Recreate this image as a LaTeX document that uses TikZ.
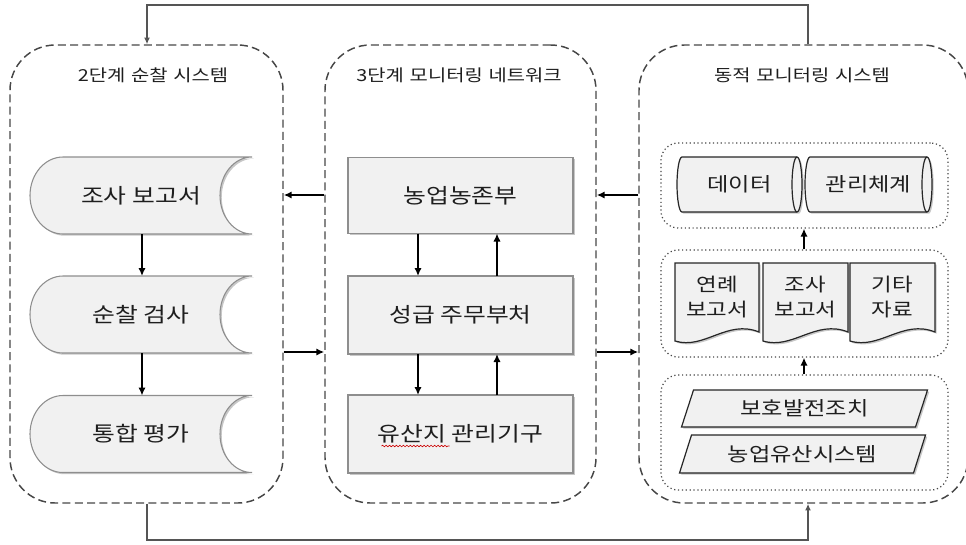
\documentclass[tikz,border=0pt]{standalone}
\usepackage{fontspec}
\setmainfont{Noto Sans CJK KR}[FakeStretch=1.2]
\newfontfamily\titlefont{Noto Sans CJK KR}[FakeStretch=1.2, WordSpace=1.3]
\usetikzlibrary{arrows.meta,calc,shadows,decorations.pathmorphing}
\definecolor{dashc}{HTML}{474747}
\definecolor{txtc}{HTML}{1E1E1E}
\definecolor{fillc}{HTML}{F1F1F1}
\definecolor{edgegray}{HTML}{8E8E8E}
\definecolor{edgedark}{HTML}{262626}
\definecolor{connc}{HTML}{555555}
\def\PX{0.75pt}
\pgfdeclarelayer{background}
\pgfsetlayers{background,main}
\tikzset{
  bigbox/.style={draw=dashc, line width=1.1pt, dash pattern=on 6pt off 3.2pt, rounded corners=34pt, inner sep=0pt, minimum height=458*\PX},
  grpbox/.style={draw=dashc, line width=0.9pt, dotted, rounded corners=13pt, inner sep=0pt},
  title/.style={font=\titlefont\fontsize{12.4}{15}\selectfont, text=txtc, inner sep=0pt},
  body/.style={font=\fontsize{15.5}{19}\selectfont, text=txtc, inner sep=0pt},
  holder/.style={body, minimum width=#1*\PX, outer sep=0pt},
  rbody/.style={font=\fontsize{14.5}{18}\selectfont},
  docbody/.style={font=\fontsize{14}{18.75}\selectfont, align=center},
  softshadow/.style={drop shadow={shadow xshift=1.3pt, shadow yshift=-1.3pt, fill=black, opacity=0.22}},
  lightshape/.style={fill=fillc, draw=edgegray, line width=0.8pt, softshadow},
  darkshape/.style={fill=fillc, draw=edgedark, line width=0.9pt, softshadow},
  arr/.style={draw=black, line width=1.7pt, -{Latex[length=6pt,width=5.5pt]}},
  conn/.style={draw=connc, line width=1pt, -{Latex[length=5pt,width=4.5pt]}},
}
\begin{document}
\begin{tikzpicture}[x=0.75pt, y=-0.75pt]
\useasboundingbox (0,0) rectangle (966,544);

% big dashed frames
\node[bigbox, minimum width=273*\PX] (A) at (146.5,274) {};
\node[bigbox, minimum width=271*\PX] (B) at (460.5,274) {};
\node[bigbox, minimum width=329*\PX] (C) at (803.5,274) {};

\node[title] (tA) at (153,75) {2단계 순찰 시스템};
\node[title] (tB) at (459,75) {3단계 모니터링 네트워크};
\node[title] (tC) at (802,75) {동적 모니터링 시스템};

% left: stored-data shapes
\node[holder=222, minimum height=77*\PX] (s1) at (141,195.5) {조사 보고서};
\node[holder=222, minimum height=77*\PX] (s2) at (141,314.5) {순찰 검사};
\node[holder=222, minimum height=77*\PX] (s3) at (141,434) {통합 평가};

% middle: boxes
\node[holder=225, minimum height=76*\PX] (m1) at (460.5,195.5) {농업농존부};
\node[holder=225, minimum height=78*\PX] (m2) at (460.5,315) {성급 주무부처};
\node[holder=225, minimum height=78*\PX] (m3) at (460.5,434) {유산지 관리기구};

% right: groups
\node[grpbox, minimum width=287*\PX, minimum height=85*\PX] (g1) at (804.5,185.5) {};
\node[grpbox, minimum width=287*\PX, minimum height=107*\PX] (g2) at (804.5,303.5) {};
\node[grpbox, minimum width=287*\PX, minimum height=115*\PX] (g3) at (804.5,432.5) {};

\node[holder=125, minimum height=55*\PX, rbody] (c1) at (739.5,184.5) {데이터};
\node[holder=127, minimum height=55*\PX, rbody] (c2) at (868.5,184.5) {관리체계};

\node[holder=84, minimum height=68*\PX, docbody] (d1) at (717,297) {연례\\보고서};
\node[holder=85, minimum height=68*\PX, docbody] (d2) at (805.5,297) {조사\\보고서};
\node[holder=85, minimum height=68*\PX, docbody] (d3) at (892.5,297) {기타\\자료};

\node[holder=234, minimum height=37*\PX, rbody] (p1) at (804.5,408.5) {보호발전조치};
\node[holder=234, minimum height=38*\PX, rbody] (p2) at (802.5,454) {농업유산시스템};

\begin{pgfonlayer}{background}
  % stored data shapes
  \foreach \s in {s1,s2,s3}{
    \path[lightshape] ($(\s.north west)+(33,0)$) -- (\s.north east)
      arc[start angle=90, end angle=270, x radius=24pt, y radius=28.875pt]
      -- ($(\s.south west)+(33,0)$)
      arc[start angle=270, end angle=90, x radius=24.75pt, y radius=28.875pt] -- cycle;
  }
  % middle rectangles
  \foreach \m in {m1,m2,m3}{
    \path[lightshape] (\m.north west) rectangle (\m.south east);
  }
  % cylinders
  \foreach \c in {c1,c2}{
    \path[darkshape] ($(\c.north west)+(5,0)$) -- ($(\c.north east)+(-5,0)$)
      arc[start angle=90, end angle=-90, x radius=3.75pt, y radius=20.625pt]
      -- ($(\c.south west)+(5,0)$)
      arc[start angle=270, end angle=90, x radius=3.75pt, y radius=20.625pt] -- cycle;
    \draw[edgedark, line width=0.9pt] ($(\c.north east)+(-5,0)$)
      arc[start angle=90, end angle=270, x radius=3.75pt, y radius=20.625pt];
  }
  % documents
  \foreach \d in {d1,d2,d3}{
    \path[darkshape] (\d.north west) -- (\d.north east) -- ($(\d.south east)+(0,1)$)
      .. controls ($(\d.south west)!0.62!(\d.south east)+(0,-12)$)
      and ($(\d.south west)!0.35!(\d.south east)+(0,19)$) .. ($(\d.south west)+(0,10)$) -- cycle;
  }
  % parallelograms
  \foreach \p in {p1,p2}{
    \path[darkshape] ($(\p.south west)+(-6,0)$) -- ($(\p.north west)+(6,0)$)
      -- ($(\p.north east)+(6,0)$) -- ($(\p.south east)+(-6,0)$) -- cycle;
  }
\end{pgfonlayer}

% spell-check underline
\draw[red!80!black, line width=0.45pt, decorate, decoration={snake, amplitude=0.6pt, segment length=2.6pt}]
  ($(m3.center)+(-79,12)$) -- ($(m3.center)+(-11,12)$);

% vertical arrows left
\draw[arr] (s1.south -| 142,0) -- (s2.north -| 142,0);
\draw[arr] (s2.south -| 142,0) -- (s3.north -| 142,0);

% vertical arrows middle
\draw[arr] (m1.south -| 418,0) -- (m2.north -| 418,0);
\draw[arr] (m2.north -| 497,0) -- (m1.south -| 497,0);
\draw[arr] (m2.south -| 418,0) -- (m3.north -| 418,0);
\draw[arr] (m3.north -| 497,0) -- (m2.south -| 497,0);

% right groups arrows
\draw[arr] (g2.north -| 804,0) -- (g1.south -| 804,0);
\draw[arr] (g3.north -| 804,0) -- (g2.south -| 804,0);

% horizontal arrows between frames
\draw[arr] (B.west |- 0,195) -- (A.east |- 0,195);
\draw[arr] (A.east |- 0,352) -- (B.west |- 0,352);
\draw[arr] (C.west |- 0,195) -- (B.east |- 0,195);
\draw[arr] (B.east |- 0,352) -- (C.west |- 0,352);

% outer loop connectors
\draw[conn] (C.north -| 808,0) -- (808,5) -| (A.north -| 147,0);
\draw[conn] (A.south -| 147,0) -- (147,540) -| (C.south -| 808,0);
\end{tikzpicture}
\end{document}
